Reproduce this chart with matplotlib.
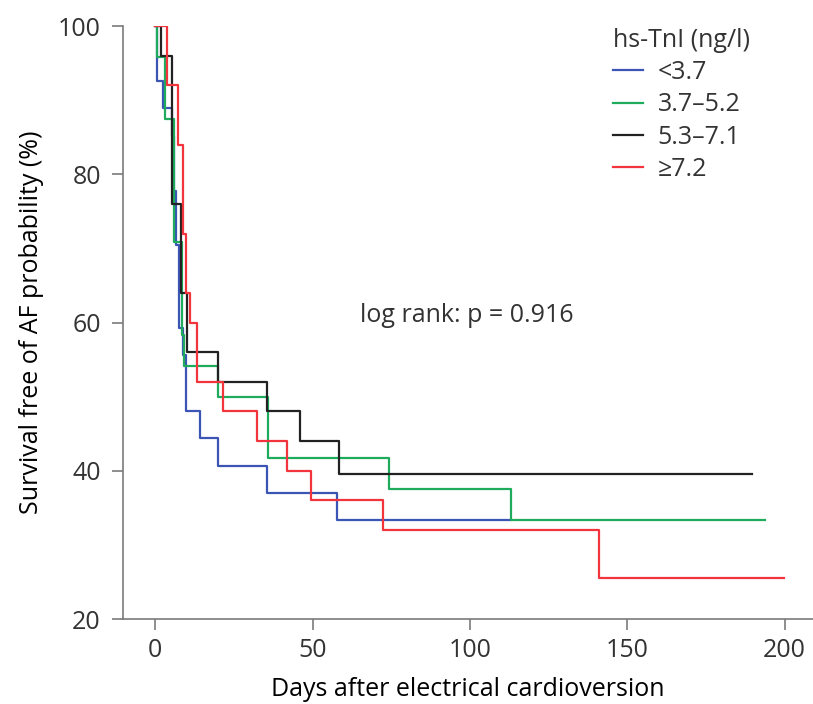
import matplotlib
matplotlib.use("Agg")
import matplotlib.pyplot as plt

plt.rcParams["font.family"] = ["Open Sans", "DejaVu Sans"]
plt.rcParams["font.size"] = 18
plt.rcParams["text.color"] = "#333333"

# Kaplan-Meier step data (days, survival %)
blue_t = [0, 0.7, 2.4, 5.3, 6.0, 6.6, 7.7, 8.8, 9.8, 14.3, 20.1, 35.7, 57.7]
blue_s = [100, 92.6, 88.9, 85.2, 77.8, 70.4, 59.3, 55.6, 48.1, 44.4, 40.7, 37.0, 33.3]
blue_end = 113

green_t = [0, 0.7, 3.2, 6.0, 8.5, 9.3, 19.9, 36.0, 74.3, 113.0]
green_s = [100, 95.8, 87.5, 70.8, 58.3, 54.2, 50.0, 41.7, 37.5, 33.3]
green_end = 193.7

black_t = [0, 1.9, 5.5, 8.2, 10.0, 19.9, 35.7, 46.0, 58.5]
black_s = [100, 96, 76, 64, 56, 52, 48, 44, 39.6]
black_end = 189.7

red_t = [0, 3.7, 7.4, 8.8, 9.8, 11.1, 13.2, 21.5, 32.3, 42.0, 49.5, 72.5, 141.0]
red_s = [100, 92, 84, 72, 64, 60, 52, 48, 44, 40, 36, 32, 25.6]
red_end = 199.8

groups = ["<3.7", "3.7\u20135.2", "5.3\u20137.1", "\u22657.2"]
colors = ["#3b55b4", "#1eab5c", "#222222", "#f2353d"]

fig = plt.figure(figsize=(8.13, 7.04), dpi=100)
ax = fig.add_axes([0.1513, 0.1207, 0.8487, 0.8423])

series = [
    (blue_t, blue_s, blue_end),
    (green_t, green_s, green_end),
    (black_t, black_s, black_end),
    (red_t, red_s, red_end),
]
for (t, s, end), lab, c in zip(series, groups, colors):
    ax.step(t + [end], s + [s[-1]], where="post", color=c, lw=1.6, label=lab)

ax.set_xlim(-10.2, 209)
ax.set_ylim(20, 100)
ax.set_xticks([0, 50, 100, 150, 200])
ax.set_yticks([20, 40, 60, 80, 100])

for side in ["top", "right"]:
    ax.spines[side].set_visible(False)
for side in ["left", "bottom"]:
    ax.spines[side].set_color("#7a7a7a")
    ax.spines[side].set_linewidth(1.2)
ax.tick_params(axis="both", colors="#7a7a7a", labelcolor="#333333",
               length=8, width=1.2, labelsize=18)
ax.tick_params(axis="y", pad=8)
ax.tick_params(axis="x", pad=6)

ax.set_xlabel("Days after electrical cardioversion", fontsize=18, labelpad=10)
ax.set_ylabel("Survival free of AF probability (%)", fontsize=18, labelpad=10)

ax.text(65, 60.9, "log rank: p = 0.916", fontsize=18, va="center", ha="left")

leg = ax.legend(title="hs-TnI (ng/l)", loc="upper left", bbox_to_anchor=(0.677, 1.035),
                frameon=False, handlelength=1.2, handletextpad=0.6,
                labelspacing=0.29, fontsize=18, title_fontsize=18)
leg._legend_box.align = "left"

fig.savefig("out.png", dpi=100)
